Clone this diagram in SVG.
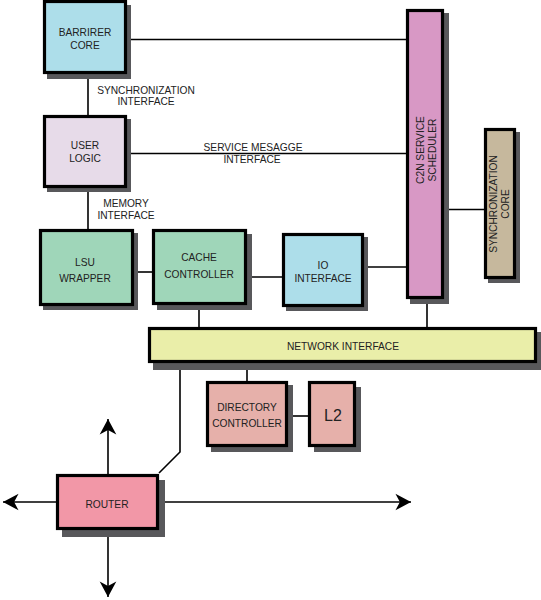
<svg xmlns="http://www.w3.org/2000/svg" width="541" height="600" viewBox="0 0 541 600">
<defs>
<style>
.box{stroke:#000;stroke-width:3.2}
.sh{fill:#58585b}
.ln{stroke:#000;stroke-width:1.6;fill:none}
text{font-family:"Liberation Sans",Arial,sans-serif;font-size:10.2px;fill:#222;text-anchor:middle}
</style>
<marker id="ah" markerUnits="userSpaceOnUse" markerWidth="20" markerHeight="20" viewBox="-16 -9 18 18" refX="0" refY="0" orient="auto">
<path d="M0,0 L-14,-7.5 L-10,0 L-14,7.5 Z" fill="#000"/>
</marker>
</defs>
<rect width="541" height="600" fill="#fff"/>
<g id="connectors">
<path class="ln" d="M127,39.5 H406"/>
<path class="ln" d="M88,74 V115"/>
<path class="ln" d="M127,153.5 H406"/>
<path class="ln" d="M88,188 V229"/>
<path class="ln" d="M134,272 H152"/>
<path class="ln" d="M247,277 H282"/>
<path class="ln" d="M364,267 H406"/>
<path class="ln" d="M444,209.5 H484"/>
<path class="ln" d="M427,299 V327"/>
<path class="ln" d="M199,305 V327"/>
<path class="ln" d="M247,363 V381"/>
<path class="ln" d="M288,416 H308"/>
<path class="ln" d="M180,363 V452 L159,473"/>
<path class="ln" d="M108,474 V419" marker-end="url(#ah)"/>
<path class="ln" d="M108,530 V597" marker-end="url(#ah)"/>
<path class="ln" d="M56,502 H3" marker-end="url(#ah)"/>
<path class="ln" d="M159,502 H411" marker-end="url(#ah)"/>
<text x="146" y="93.5">SYNCHRONIZATION</text>
<text x="146" y="105">INTERFACE</text>
<text x="253" y="151">SERVICE MESAGGE</text>
<text x="252" y="162.5">INTERFACE</text>
<text x="126" y="206.5">MEMORY</text>
<text x="126" y="218.5">INTERFACE</text>
</g>
<g id="barrier-core">
<rect class="sh" x="47" y="5" width="84" height="74"/>
<rect class="box" x="44.5" y="1.5" width="81" height="71" fill="#addeea"/>
<text x="85" y="35.5">BARRIRER</text>
<text x="85" y="48.5">CORE</text>
</g>
<g id="user-logic">
<rect class="sh" x="47" y="119" width="84" height="73"/>
<rect class="box" x="44.5" y="116.5" width="81" height="70" fill="#e7dbe9"/>
<text x="85" y="149">USER</text>
<text x="85" y="162">LOGIC</text>
</g>
<g id="lsu-wrapper">
<rect class="sh" x="43" y="233" width="95" height="77"/>
<rect class="box" x="40.5" y="230.5" width="92" height="74" fill="#9fd6b9"/>
<text x="85" y="266">LSU</text>
<text x="85" y="282">WRAPPER</text>
</g>
<g id="cache-controller">
<rect class="sh" x="157" y="234" width="95" height="76"/>
<rect class="box" x="153.5" y="230.5" width="92" height="73" fill="#9fd6b9"/>
<text x="199" y="261">CACHE</text>
<text x="199" y="278">CONTROLLER</text>
</g>
<g id="io-interface">
<rect class="sh" x="286" y="237" width="82" height="74"/>
<rect class="box" x="283.5" y="234.5" width="79" height="71" fill="#addeea"/>
<text x="323" y="269">IO</text>
<text x="323" y="282">INTERFACE</text>
</g>
<g id="c2n-scheduler">
<rect class="sh" x="410" y="13" width="39" height="291"/>
<rect class="box" x="407.5" y="10.5" width="35" height="287" fill="#d898c5"/>
<text transform="translate(423.5,150) rotate(-90)">C2N SERVICE</text>
<text transform="translate(435.5,150) rotate(-90)">SCHEDULER</text>
</g>
<g id="synchronization-core">
<rect class="sh" x="488" y="132" width="32" height="151"/>
<rect class="box" x="485.5" y="129.5" width="29" height="148" fill="#c6b89d"/>
<text transform="translate(496.5,204) rotate(-90)">SYNCHRONIZATION</text>
<text transform="translate(509,204) rotate(-90)">CORE</text>
</g>
<g id="network-interface">
<rect class="sh" x="153" y="332" width="388" height="38"/>
<rect class="box" x="149.5" y="328.5" width="386" height="33" fill="#eaeea9"/>
<text x="343" y="350">NETWORK INTERFACE</text>
</g>
<g id="directory-controller">
<rect class="sh" x="211" y="385" width="82" height="67"/>
<rect class="box" x="207.5" y="382.5" width="79" height="63" fill="#e6b0aa"/>
<text x="247" y="411">DIRECTORY</text>
<text x="247" y="427">CONTROLLER</text>
</g>
<g id="l2">
<rect class="sh" x="314" y="387" width="47" height="65"/>
<rect class="box" x="309.5" y="382.5" width="45" height="63" fill="#e6b0aa"/>
<text x="333" y="421" style="font-size:16px">L2</text>
</g>
<g id="router">
<rect class="sh" x="62" y="480" width="103" height="57"/>
<rect class="box" x="57.5" y="475.5" width="100" height="53" fill="#f297a7"/>
<text x="107" y="508">ROUTER</text>
</g>
</svg>
